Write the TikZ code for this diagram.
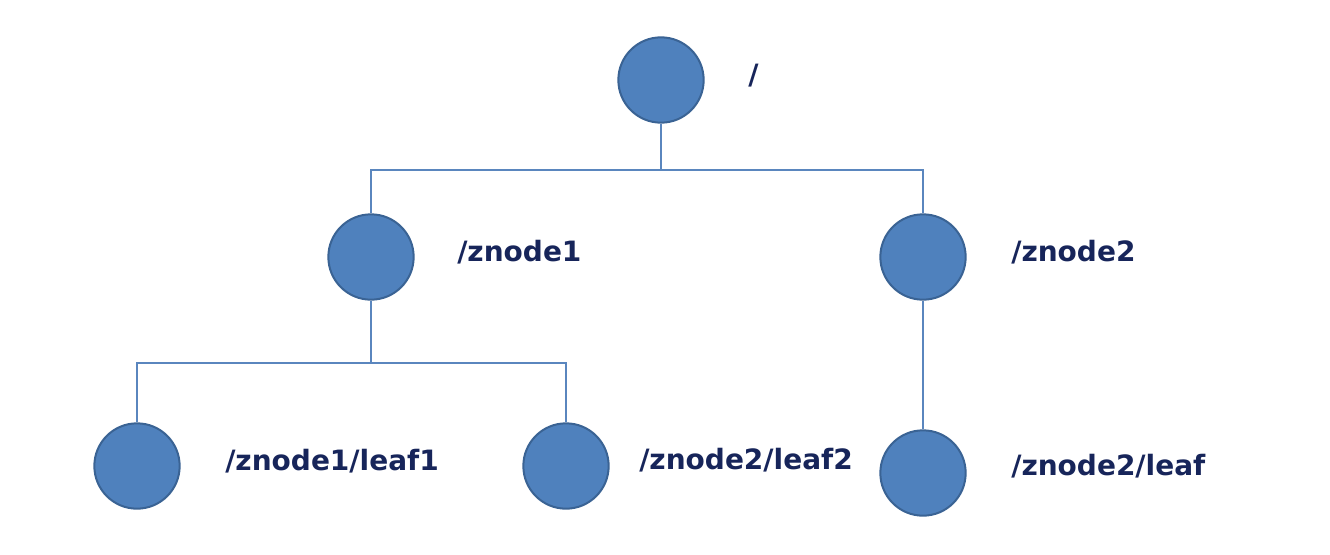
\documentclass[tikz,border=0pt]{standalone}
\usepackage{fontspec}
\setmainfont{DejaVu Sans}
\begin{document}
\definecolor{nodefill}{HTML}{4F81BD}
\definecolor{nodeedge}{HTML}{3A6394}
\definecolor{linkcol}{HTML}{5A86BE}
\definecolor{labelcol}{HTML}{17255A}
\begin{tikzpicture}[x=0.75pt,y=-0.75pt,
  znode/.style={circle,fill=nodefill,draw=nodeedge,line width=1.5pt,minimum size=64pt,inner sep=0pt},
  link/.style={draw=linkcol,line width=1.3pt},
  path label/.style={anchor=west,text=labelcol,font=\fontsize{21pt}{25pt}\selectfont\bfseries,inner sep=0pt}]
\useasboundingbox (0,0) rectangle (1330,554);
% tree nodes
\node[znode] (root) at (661,80) {};
\node[znode] (z1) at (371,257) {};
\node[znode] (z2) at (923,257) {};
\node[znode] (l1) at (137,466) {};
\node[znode] (l2) at (566,466) {};
\node[znode] (l3) at (923,473) {};
% labels
\node[path label] (troot) at (748,76) {/};
\node[path label] (tz1) at (457,252) {/znode1};
\node[path label] (tz2) at (1011,252) {/znode2};
\node[path label] (tl1) at (225,461) {/znode1/leaf1};
\node[path label] (tl2) at (639,460) {/znode2/leaf2};
\node[path label] (tl3) at (1011,466) {/znode2/leaf};
% elbow connectors
\coordinate (j0) at (661,170);
\coordinate (j1) at (371,363);
\draw[link] (root.south) -- (j0);
\draw[link] (j0) -| (z1.north);
\draw[link] (j0) -| (z2.north);
\draw[link] (z1.south) -- (j1);
\draw[link] (j1) -| (l1.north);
\draw[link] (j1) -| (l2.north);
\draw[link] (z2.south) -- (l3.north);
\end{tikzpicture}
\end{document}
